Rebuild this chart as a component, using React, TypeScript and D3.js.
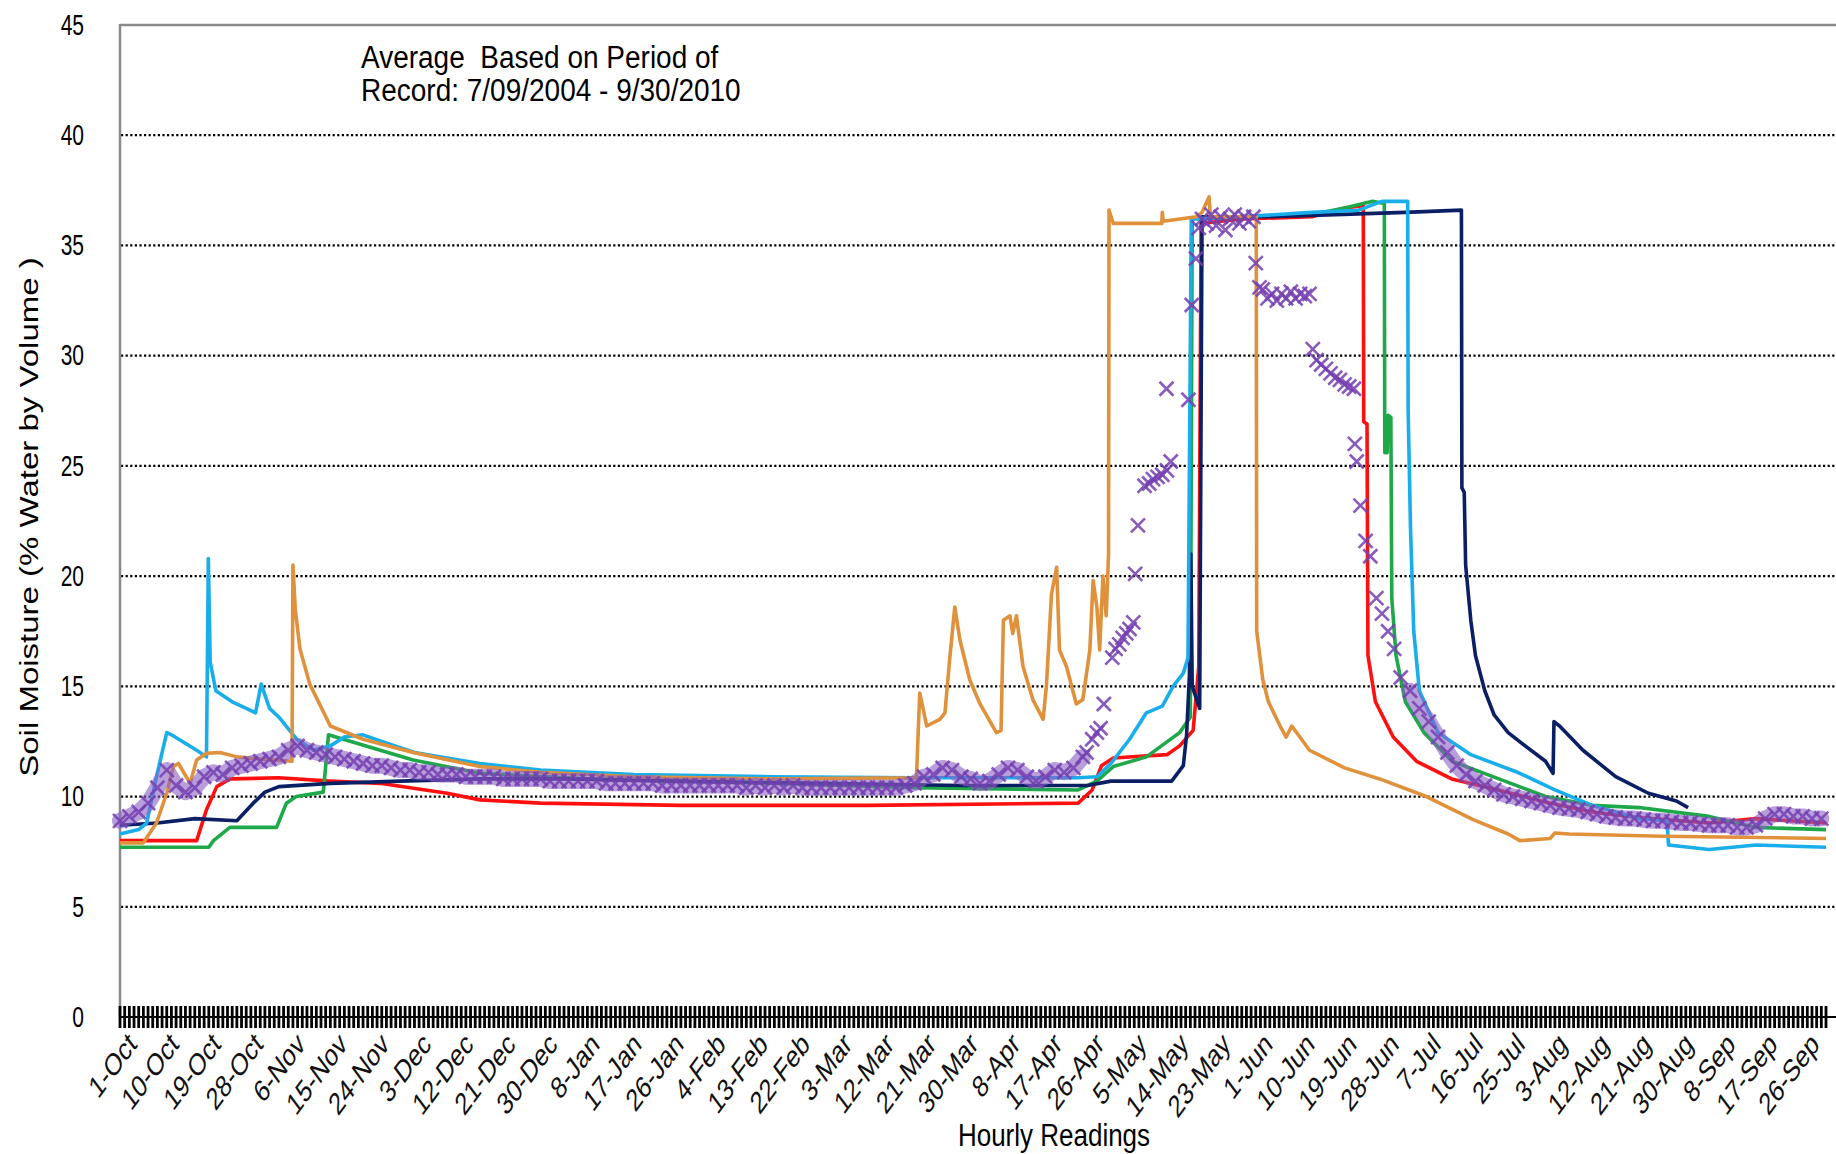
import React from 'react';
import * as d3 from 'd3';

type P = [number, number];

const W = 1836;
const H = 1154;

const xLabels = ['1-Oct','10-Oct','19-Oct','28-Oct','6-Nov','15-Nov','24-Nov','3-Dec','12-Dec','21-Dec','30-Dec','8-Jan','17-Jan','26-Jan','4-Feb','13-Feb','22-Feb','3-Mar','12-Mar','21-Mar','30-Mar','8-Apr','17-Apr','26-Apr','5-May','14-May','23-May','1-Jun','10-Jun','19-Jun','28-Jun','7-Jul','16-Jul','25-Jul','3-Aug','12-Aug','21-Aug','30-Aug','8-Sep','17-Sep','26-Sep'];
const yTicks = [0, 5, 10, 15, 20, 25, 30, 35, 40, 45];
const gridTicks = [5, 10, 15, 20, 25, 30, 35, 40];
const titleLines = ['Average  Based on Period of', 'Record: 7/09/2004 - 9/30/2010'];

// [day since 1-Oct, % water by volume]
const navy: P[] = [[0,8.7],[8,8.8],[16,9.0],[25,8.9],[28.5,9.7],[31,10.2],[34,10.45],[45,10.6],[60,10.7],[77,10.8],[95,10.8],[120,10.7],[150,10.6],[180,10.5],[207,10.5],[212,10.7],[225,10.7],[227.5,11.4],[228.2,12.8],[228.8,15.5],[229.1,21.0],[229.4,15.0],[231.0,14.0],[231.5,36.3],[245,36.3],[260,36.4],[275,36.5],[287,36.6],[287.1,24],[287.6,23.8],[287.9,20.5],[289,18],[290,16.4],[292,14.8],[294,13.7],[297,12.9],[300,12.4],[305,11.6],[306.6,11.05],[306.8,13.4],[308,13.2],[313,12.1],[320,10.9],[327,10.15],[333,9.8],[335.5,9.5]];

const red: P[] = [[0,8.0],[16.4,8.0],[18.5,9.4],[20.7,10.45],[23.5,10.8],[34,10.85],[45,10.7],[55.6,10.6],[70,10.15],[77,9.85],[90,9.7],[120,9.6],[160,9.6],[205,9.7],[208,10.3],[210,11.4],[212.5,11.75],[224,11.9],[226.7,12.3],[229.6,13.0],[230.8,15.9],[231.3,36.0],[240,36.2],[255,36.3],[262,36.7],[266,36.8],[266.1,27],[266.8,26.9],[267,16.4],[268.6,14.3],[272.4,12.7],[277.4,11.6],[284.9,10.8],[294.9,10.3],[304.9,9.75],[314.9,9.3],[324.9,9.05],[340,8.8],[350,9.0],[365,8.8]];

const green: P[] = [[0,7.7],[19,7.7],[20,8.0],[23.5,8.6],[33.5,8.6],[35.6,9.7],[37.7,10.0],[43.5,10.2],[44.6,12.8],[48.5,12.55],[62.7,11.66],[77,11.06],[100,10.8],[140,10.6],[170,10.4],[205,10.3],[209,10.7],[212.5,11.36],[219.6,11.8],[226.7,12.9],[229,13.6],[229.4,36.2],[240,36.3],[255,36.4],[262,36.7],[268,37.0],[270.5,36.9],[270.6,25.6],[271.1,25.6],[271.3,27.3],[271.9,27.2],[272.1,19],[273,16.4],[275,14.3],[279,12.9],[285,11.6],[295,10.8],[305,10.0],[315,9.6],[325,9.5],[340,9.1],[350,8.6],[365,8.5]];

const lightBlue: P[] = [[0,8.3],[4,8.5],[5.7,8.8],[7.8,10.9],[10,12.9],[11,12.8],[16.4,12.1],[18.5,11.8],[18.9,20.8],[19.3,16.1],[20.5,14.8],[24,14.3],[27,14.0],[29,13.8],[30.2,15.1],[32,14.0],[34,13.6],[37.8,12.6],[41.4,12.1],[45,12.3],[48,12.7],[52,12.8],[56,12.5],[63,12.0],[77,11.5],[90,11.2],[110,11.0],[140,10.9],[170,10.85],[205,10.85],[209,10.9],[212,11.5],[216,12.6],[219.6,13.8],[223,14.1],[225.3,15.0],[227.5,15.6],[228.5,16.3],[228.7,22],[229.2,36.2],[240,36.3],[255,36.5],[265,36.6],[270,37.0],[275.5,37.0],[275.6,27.5],[276.1,22.2],[276.8,17.5],[278,14.8],[282,12.9],[289,11.9],[299,11.1],[307,10.3],[315,9.6],[325,9.0],[331,8.9],[331.3,7.8],[340,7.6],[350,7.8],[365,7.7]];

const orange: P[] = [[0,7.9],[5,7.9],[7.8,8.8],[10,10.15],[11.4,11.36],[12.5,11.5],[15,10.6],[16.4,11.66],[18.5,11.96],[21.4,12.0],[25,11.8],[30,11.7],[36.8,11.6],[37.0,20.5],[37.5,18.5],[38.5,16.7],[40.6,15.1],[45,13.2],[52,12.6],[62.7,12.0],[77,11.36],[90,11.1],[110,10.9],[140,10.8],[170.4,10.85],[171.1,14.7],[172.6,13.2],[175.4,13.5],[176.5,13.8],[177.5,16.2],[178.6,18.6],[179.7,17.1],[181.8,15.3],[184,14.2],[187.5,12.9],[188.5,13.0],[189,18.0],[190.4,18.2],[191,17.4],[191.8,18.2],[193.2,15.9],[195.3,14.4],[197.5,13.5],[198.2,15.0],[199.3,19.2],[200.4,20.4],[201,16.65],[202.5,15.9],[204.6,14.2],[206,14.4],[207.5,16.65],[208.2,19.8],[209,18.6],[209.6,16.65],[210.3,20.0],[211,18.2],[211.5,21],[211.6,36.6],[212.5,36.0],[222.9,36.0],[223,36.5],[223.2,36.1],[230.3,36.3],[231.5,36.5],[233,37.2],[233.3,36.3],[243.1,36.3],[243.2,17.5],[244.5,15.3],[245.7,14.3],[248.2,13.2],[249.5,12.7],[250.7,13.2],[254.5,12.1],[262,11.3],[269.5,10.8],[279.5,10.0],[289.5,8.95],[297,8.3],[299.5,8.0],[306,8.1],[307,8.35],[310,8.3],[330,8.2],[365,8.1]];

// purple series: markers only; dense stretches also get a soft band
const purpleDenseA: P[] = [[0,8.9],[2,9.1],[4,9.3],[6,9.7],[8,10.4],[10,11.2],[12,10.5],[14,10.2],[16,10.4],[18,10.9],[20,11.1],[22,11.0],[24,11.3],[26,11.4],[28,11.5],[30,11.6],[32,11.7],[34,11.8],[36,12.1],[38,12.3],[40,12.1],[42,12.0],[44,11.9],[46,11.8],[48,11.7],[50,11.6],[52,11.5],[54,11.4],[56,11.4],[58,11.3],[60,11.2],[62,11.2],[64,11.1],[66,11.1],[68,11.0],[70,11.0],[72,11.0],[74,10.9],[76,10.9],[78,10.9],[80,10.9],[82,10.8],[84,10.8],[86,10.8],[88,10.8],[90,10.8],[92,10.7],[94,10.7],[96,10.7],[98,10.7],[100,10.7],[102,10.7],[104,10.6],[106,10.6],[108,10.6],[110,10.6],[112,10.6],[114,10.6],[116,10.5],[118,10.5],[120,10.5],[122,10.5],[124,10.5],[126,10.5],[128,10.5],[130,10.5],[132,10.5],[134,10.4],[136,10.5],[138,10.4],[140,10.5],[142,10.4],[144,10.5],[146,10.4],[148,10.4],[150,10.4],[152,10.4],[154,10.4],[156,10.4],[158,10.4],[160,10.4],[162,10.4],[164,10.4],[166,10.4],[168,10.5],[170,10.6],[172,10.9],[174,11.0],[176,11.3],[178,11.2],[180,10.9],[182,10.8],[184,10.6],[186,10.7],[188,11.0],[190,11.3],[192,11.2],[194,10.9],[196,10.7],[198,10.9],[200,11.2],[202,11.1],[204,11.3],[206,11.8]];

const purpleSparse: P[] = [[206.8,12.0],[208,12.6],[209,12.9],[209.8,13.1],[210.5,14.2],[212.3,16.3],[213,16.7],[213.8,16.9],[214.5,17.2],[215.3,17.4],[216,17.6],[216.8,17.9],[217.2,20.1],[217.8,22.3],[219.2,24.1],[220.2,24.2],[221,24.4],[222,24.5],[223,24.6],[224,24.8],[224.8,25.2],[223.9,28.5],[228.6,28.0],[229.3,32.3],[230.2,34.4],[230.8,35.8],[231.5,36.2],[232.5,36.0],[233.5,36.4],[234.5,35.9],[235.5,36.3],[236.5,35.7],[237.5,36.2],[238.5,36.4],[239.5,36.0],[240.5,36.3],[241.5,36.1],[242.5,36.3],[243,34.2],[243.8,33.1],[244.5,33.0],[245.5,32.6],[246.5,32.8],[247.5,32.5],[248.5,32.8],[249.5,32.6],[250.5,32.9],[251.5,32.6],[252.5,32.8],[253.5,32.7],[254.5,32.8],[255.2,30.3],[256,29.8],[257,29.6],[258,29.4],[259,29.2],[260,29.0],[261,28.9],[262,28.7],[263,28.6],[264,28.5],[264.2,26.0],[264.6,25.2],[265.4,23.2],[266.5,21.6],[267.5,20.9],[268.8,19.0],[270,18.3],[271.3,17.5],[272.6,16.7],[274,15.4]];

const purpleDenseB: P[] = [[276,14.8],[278,14.0],[280,13.4],[282,12.7],[284,12.0],[286,11.4],[288,11.0],[290,10.7],[292,10.5],[294,10.3],[296,10.1],[298,10.0],[300,9.9],[302,9.8],[304,9.7],[306,9.6],[308,9.5],[310,9.45],[312,9.4],[314,9.3],[316,9.2],[318,9.1],[320,9.05],[322,9.0],[324,9.0],[326,8.95],[328,8.9],[330,8.9],[332,8.85],[334,8.8],[336,8.8],[338,8.75],[340,8.7],[342,8.7],[344,8.7],[346,8.6],[348,8.6],[350,8.7],[352,9.0],[354,9.2],[356,9.2],[358,9.1],[360,9.1],[362,9.0],[364,9.0]];

const lineSeries: { name: string; color: string; data: P[] }[] = [
  { name: 'red', color: '#ff1010', data: red },
  { name: 'green', color: '#1ea84a', data: green },
  { name: 'navy', color: '#0a1f64', data: navy },
  { name: 'lightBlue', color: '#19aeea', data: lightBlue },
  { name: 'orange', color: '#e0913c', data: orange },
];

const FONT = '"Liberation Sans", Arial, sans-serif';

export default function App() {
  const x = d3.scaleLinear().domain([0, 365]).range([120, 1826]);
  const y = d3.scaleLinear().domain([0, 45]).range([1017, 25]);
  const line = d3.line<P>().x(d => x(d[0])).y(d => y(d[1])).curve(d3.curveLinear);
  const dayTicks = d3.range(0, 366);
  const purpleAll = [...purpleDenseA, ...purpleSparse, ...purpleDenseB];
  const mk = 7;

  return (
    <svg width={W} height={H} style={{ position: 'absolute', left: 0, top: 0, background: '#fff' }} fontFamily={FONT}>
      <rect x={0} y={0} width={W} height={H} fill="#fff" />
      {/* grid */}
      {gridTicks.map(t => (
        <line key={t} x1={121} x2={W} y1={y(t)} y2={y(t)} stroke="#000" strokeWidth={2.2} strokeDasharray="2.2 2.4" />
      ))}
      {/* plot border top + left axis */}
      <line x1={120} x2={W} y1={25} y2={25} stroke="#8a8a8a" strokeWidth={2.5} />
      <line x1={120} x2={120} y1={24} y2={1017} stroke="#8a8a8a" strokeWidth={2.5} />

      {/* series lines */}
      {lineSeries.map(s => (
        <path key={s.name} d={line(s.data) || ''} fill="none" stroke={s.color} strokeWidth={3.6} strokeLinejoin="round" />
      ))}

      {/* purple dense bands */}
      {[purpleDenseA, purpleDenseB].map((arr, i) => (
        <path key={'pb' + i} d={line(arr) || ''} fill="none" stroke="#8a5ec4" strokeOpacity={0.6} strokeWidth={16} strokeLinejoin="round" strokeLinecap="round" />
      ))}
      {/* purple markers */}
      {purpleAll.map((d, i) => (
        <path key={'pm' + i} transform={`translate(${x(d[0])},${y(d[1])})`} d={`M${-mk},${-mk}L${mk},${mk}M${-mk},${mk}L${mk},${-mk}`} stroke="#7440b0" strokeOpacity={0.85} strokeWidth={2.6} fill="none" />
      ))}

      {/* x axis */}
      <line x1={120} x2={W} y1={1017} y2={1017} stroke="#000" strokeWidth={2} />
      {dayTicks.map(d => (
        <line key={'t' + d} x1={x(d)} x2={x(d)} y1={1006} y2={1028} stroke="#000" strokeWidth={2.8} />
      ))}

      {/* y tick labels */}
      {yTicks.map(t => (
        <text key={'yl' + t} transform={`translate(84,${y(t)}) scale(1,1.4)`} y={7} textAnchor="end" fontSize={21} fill="#000">{t}</text>
      ))}

      {/* x tick labels */}
      {xLabels.map((lab, i) => (
        <text key={'xl' + i} transform={`translate(${x(i * 9) + 18},${1046}) scale(1,1.35) rotate(-45)`} textAnchor="end" fontSize={23} fill="#111">{lab}</text>
      ))}

      {/* title */}
      {titleLines.map((t, i) => (
        <text key={'ti' + i} transform={`translate(361,${68 + i * 33}) scale(1,1.1)`} fontSize={28} fill="#000" style={{ whiteSpace: 'pre' }}>{t}</text>
      ))}

      {/* axis titles */}
      <text transform={`translate(1054,1146) scale(1,1.2)`} textAnchor="middle" fontSize={26} fill="#000">Hourly Readings</text>
      <text transform={`translate(38,517) scale(1,1.32) rotate(-90)`} textAnchor="middle" fontSize={25} fill="#000" style={{ whiteSpace: 'pre' }}>Soil Moisture (% Water by Volume )</text>
    </svg>
  );
}
